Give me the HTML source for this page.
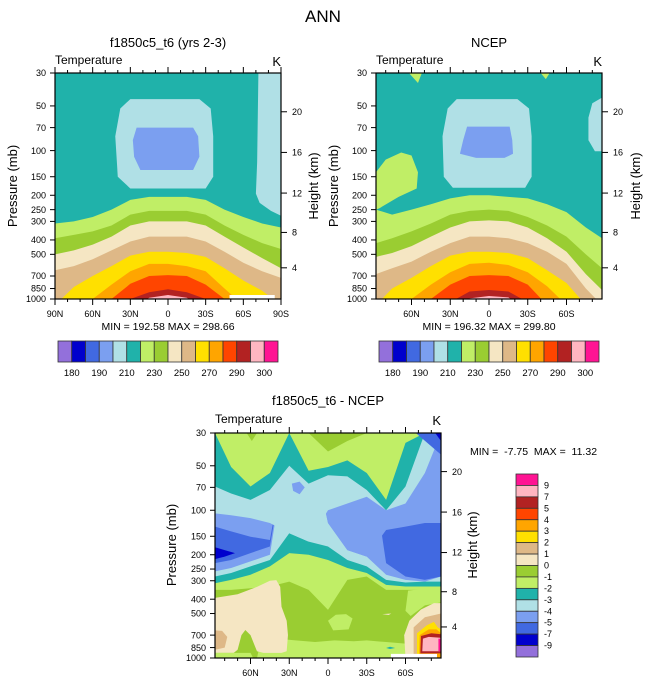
<!DOCTYPE html>
<html><head><meta charset="utf-8">
<style>
html,body{margin:0;padding:0;background:#fff;}
svg{display:block;font-family:"Liberation Sans",Arial,sans-serif;}
</style></head>
<body>
<svg id="root" width="647" height="683" viewBox="0 0 647 683" xmlns="http://www.w3.org/2000/svg">
<defs>
<clipPath id="clipA"><rect x="55" y="73" width="226" height="226"/></clipPath>
<clipPath id="clipB"><rect x="376" y="73" width="226" height="226"/></clipPath>
<clipPath id="clipC"><rect x="215" y="433" width="226" height="225"/></clipPath>
</defs>
<text x="323" y="22" font-size="17" text-anchor="middle">ANN</text>
<text x="168" y="47" font-size="13" text-anchor="middle">f1850c5_t6 (yrs 2-3)</text>
<text x="489" y="47" font-size="13" text-anchor="middle">NCEP</text>
<text x="328" y="405" font-size="13" text-anchor="middle">f1850c5_t6 - NCEP</text>
<text x="55" y="64" font-size="12">Temperature</text>
<text x="281" y="66" font-size="13" text-anchor="end">K</text>
<text x="376" y="64" font-size="12">Temperature</text>
<text x="602" y="66" font-size="13" text-anchor="end">K</text>
<text x="215" y="423" font-size="12">Temperature</text>
<text x="441" y="425" font-size="13" text-anchor="end">K</text>
<text x="168" y="330" font-size="10.5" text-anchor="middle">MIN = 192.58  MAX = 298.66</text>
<text x="489" y="330" font-size="10.5" text-anchor="middle">MIN = 196.32  MAX = 299.80</text>
<text x="470" y="455" font-size="10.5" xml:space="preserve">MIN =  -7.75  MAX =  11.32</text>
<text transform="translate(17,186) rotate(-90)" font-size="13" text-anchor="middle">Pressure (mb)</text>
<text transform="translate(338,186) rotate(-90)" font-size="13" text-anchor="middle">Pressure (mb)</text>
<text transform="translate(176,545) rotate(-90)" font-size="13" text-anchor="middle">Pressure (mb)</text>
<text transform="translate(318,186) rotate(-90)" font-size="13" text-anchor="middle">Height (km)</text>
<text transform="translate(640,186) rotate(-90)" font-size="13" text-anchor="middle">Height (km)</text>
<text transform="translate(477,545) rotate(-90)" font-size="13" text-anchor="middle">Height (km)</text>
<g id="gA"></g>
<g id="gB"></g>
<g id="gC"></g>
<g id="cbars"></g>
</svg>
<script>
// ---------- data ----------
const colorsT = ['#9370DB','#0000CD','#4169E1','#7B9FF0','#B0E0E6','#20B2AA','#C0EE66','#9ACD32','#F5E6C3','#DEB887','#FFE000','#FFA500','#FF4500','#B22222','#FFB6C1','#FF1493'];
const cbarLabelsT = ['180','190','210','230','250','270','290','300'];
const cbarLabelsD = ['9','7','5','4','3','2','1','0','-1','-2','-3','-4','-5','-7','-9'];
const pTicks = [30,50,70,100,150,200,250,300,400,500,700,850,1000];
const hTicks = [4,8,12,16,20];
const latTicksA = [90,60,30,0,-30,-60,-90];
const latLabelsA = ['90N','60N','30N','0','30S','60S','90S'];
const latTicksB = [60,30,0,-30,-60];
const latLabelsB = ['60N','30N','0','30S','60S'];

// model panel (lat 90N..90S)
const latsA = [90,75,60,45,30,15,0,-15,-30,-45,-60,-75,-90];
const A220 = [310,300,280,250,215,205,205,205,215,250,280,310,330];
const A230 = [390,370,350,320,270,255,255,255,270,320,370,420,460];
const A240 = [500,470,430,380,320,300,300,300,320,380,450,530,620];
const A250 = [640,600,540,470,410,380,380,380,410,480,570,650,720];
const A260 = [1100,830,700,600,510,480,480,490,520,620,750,880,1100];
const A270 = [1300,1200,1000,800,650,580,580,600,650,850,1100,1300,1300];
const A280 = [1500,1400,1200,1000,790,700,690,700,800,1000,1200,1400,1500];
const A290 = [1500,1400,1300,1200,1000,900,860,900,1000,1200,1300,1400,1500];
const A295 = [1500,1400,1300,1250,1200,980,940,980,1200,1250,1300,1400,1500];
const A210blob = [[30,45],[-25,45],[-34,52],[-36,80],[-36,150],[-30,180],[30,180],[40,150],[42,80],[38,52]];
const A200blob = [[25,70],[-20,70],[-24,80],[-25,110],[-20,135],[22,135],[27,110],[28,85]];
const A210pole = [[-72,30],[-90,30],[-90,275],[-82,255],[-73,225],[-70,195],[-71,120]];
const Amissing = [[-49,940],[-85,940],[-85,1000],[-49,1000]];

// NCEP panel
const latsB = [87.5,75,60,45,30,15,0,-15,-30,-45,-60,-75,-87.5];
const B220 = [250,270,250,230,210,200,200,205,210,230,260,330,390];
const B230 = [420,390,350,310,270,255,250,255,280,320,380,500,620];
const B240 = [520,490,440,380,330,300,295,300,330,390,480,680,870];
const B250 = [680,620,560,480,420,380,380,390,420,480,580,850,1100];
const B260 = [1100,850,720,600,510,480,480,490,530,640,780,1100,1300];
const B270 = [1400,1200,1000,800,660,580,570,590,660,820,1100,1300,1400];
const B280 = [1500,1400,1200,1000,800,700,690,700,800,1100,1300,1400,1500];
const B290 = [1500,1400,1300,1200,1050,890,870,890,1050,1200,1300,1400,1500];
const B295 = [1500,1400,1300,1250,1200,990,955,975,1200,1250,1300,1400,1500];
const B220blob = [[87.5,140],[80,115],[68,103],[60,108],[55,140],[56,180],[70,205],[85,245],[87.5,250]];
const B210blob = [[25,45],[-22,45],[-31,52],[-33,80],[-33,150],[-28,178],[28,178],[35,150],[36,80],[32,52]];
const B200blob = [[17,69],[-16,69],[-18,85],[-18.6,105],[-12,112],[10,112],[22.5,105],[20,85]];
const B210pole = [[-87.5,44],[-80,48],[-77,60],[-77,85],[-82,101],[-87.5,101]];
const B220top1 = [[62,30],[52,30],[55,35]];
const B220top2 = [[-40,30],[-47,30],[-44,33]];

// difference panel
const latsC = latsB;
const Clg_low   = [346,346,337,328,304,346,472,296,281,346,346,346,364];
const Cteal_low = [312,296,273,240,195,200,217,246,266,320,328,328,328];
const Cpow_low  = [281,266,240,217,143,163,176,217,240,296,308,304,304];
const Ccorn_low = [259,246,222,200,30,30,122,186,206,273,296,304,281];
const Croyal    = [228,217,195,176,30,30,30,30,30,228,281,296,281];
const Ccorn_up  = [129,139,151,159,30,30,122,186,206,136,129,122,122];
const Cpow_up   = [105,108,113,122,143,163,100,90,81,100,90,56,30];
const Cteal_up  = [69,77,85,73,50,66,58,59,73,100,69,30,30];
const Clg_up    = [30,51,69,56,30,54,51,46,56,85,35,30,30];
const Colive_up = [30,30,30,30,30,30,40,34,30,30,30,30,30];
const CnavyBlob = [[87.5,178],[80,186],[72,195],[80,206],[87.5,214]];
const CroyalCorner = [[-68,30],[-87.5,30],[-87.5,42]];
const CnavyCorner = [[-83,30],[-87.5,30],[-87.5,34]];
const CcornBlob = [[28,66],[22,64],[18,70],[22,78],[27,74]];
const ColiveTop = [[63,30],[55,30],[59,34]];
const Cwheat = [[87.5,392],[70,370],[55,330],[45,300],[40,297],[37,330],[36,450],[32,560],[31,700],[32,900],[36,923],[50,923],[55,900],[60,700],[64,646],[67,700],[70,880],[73,923],[87.5,923]];
const Ctan = [[87.5,650],[82,655],[78,720],[80,850],[87.5,880]];
const ClgBand = [[55,1000],[52,760],[40,740],[25,760],[10,780],[-5,760],[-20,770],[-30,760],[-45,780],[-60,800],[-65,1000]];
const ClgBlob = [[0,560],[-6,510],[-14,505],[-19,540],[-16,640],[-4,650]];
const ClgR = [[-62,350],[-87.5,330],[-87.5,420],[-75,440],[-64,520],[-60,480]];
const ClgBottomL = [[87.5,923],[60,923],[58,1000],[87.5,1000]];
const CtealSmall = [[-45,855],[-48,840],[-52,855],[-48,870]];
const CwheatSmall = [[-42,505],[-49,500],[-47,512]];
const CwheatR = [[-60,1000],[-59,700],[-63,560],[-72,470],[-82,425],[-87.5,425],[-87.5,1000]];
const CtanR = [[-66.3,1000],[-66.3,620],[-75,530],[-87.5,500],[-87.5,1000]];
const CgoldR = [[-68.9,1000],[-68.9,680],[-76.6,600],[-82,570],[-85,620],[-87.5,640],[-87.5,1000]];
const CorangeR = [[-70.5,1000],[-71,700],[-78,640],[-84,640],[-87.5,680],[-87.5,1000]];
const CredR = [[-71.5,930],[-72,710],[-80,680],[-87.5,690],[-87.5,930]];
const CpinkR = [[-73,900],[-73.5,740],[-78,720],[-87,730],[-87,900]];
const CmagR = [[-85.5,900],[-85.5,740],[-87.5,740],[-87.5,900]];
const Cmissing = [[-48.7,937],[-84.4,937],[-84.4,1000],[-48.7,1000]];

// ---------- helpers ----------
const NS='http://www.w3.org/2000/svg';
function mk(tag, parent, attrs){const e=document.createElementNS(NS,tag);for(const k in attrs)e.setAttribute(k,attrs[k]);parent.appendChild(e);return e;}
function panel(x0,x1,y0,y1,latL,latR){
  return {x0,x1,y0,y1,
    xs:lat=>x0+(latL-lat)/(latL-latR)*(x1-x0),
    ys:p=>y0+Math.log(p/30)/Math.log(1000/30)*(y1-y0)};
}
function stdP(z){return z<=11?1013.25*Math.pow(1-0.0065*z*1000/288.15,5.2559):226.32*Math.exp(-(z-11)/6.3416);}
function belowPath(P,lats,ps){
  let d='M'+P.xs(lats[0])+','+(P.y1+20);
  lats.forEach((l,i)=>{d+=' L'+P.xs(l).toFixed(2)+','+P.ys(ps[i]).toFixed(2);});
  d+=' L'+P.xs(lats[lats.length-1])+','+(P.y1+20)+' Z';return d;
}
function abovePath(P,lats,ps){
  let d='M'+P.xs(lats[0])+','+(P.y0-5);
  lats.forEach((l,i)=>{d+=' L'+P.xs(l).toFixed(2)+','+P.ys(ps[i]).toFixed(2);});
  d+=' L'+P.xs(lats[lats.length-1])+','+(P.y0-5)+' Z';return d;
}
function polyPath(P,pts){return 'M'+pts.map(q=>P.xs(q[0]).toFixed(2)+','+P.ys(q[1]).toFixed(2)).join(' L')+' Z';}

function axes(P,g,latT,latLab,id){
  const fr=mk('rect',g,{x:P.x0,y:P.y0,width:P.x1-P.x0,height:P.y1-P.y0,fill:'none',stroke:'#000','stroke-width':1.2});
  
  
  pTicks.forEach(p=>{
    const y=P.ys(p);
    const t=mk('line',g,{x1:P.x0-5,x2:P.x0,y1:y,y2:y,stroke:'#000','stroke-width':1});
    
    
    const tx=mk('text',g,{x:P.x0-9,y:y+3.2,'font-size':9,'text-anchor':'end'});
    tx.textContent=p;
    
    
  });
  hTicks.forEach(h=>{
    const y=P.ys(stdP(h));
    const t=mk('line',g,{x1:P.x1,x2:P.x1+6,y1:y,y2:y,stroke:'#000','stroke-width':1});
    
    
    const tx=mk('text',g,{x:P.x1+11,y:y+3.2,'font-size':9});
    tx.textContent=h;
    
    
  });
  for(let lat=90;lat>=-90;lat-=10){
    const x=P.xs(lat); if(x<P.x0-0.5||x>P.x1+0.5) continue;
    const major=(lat%30===0), L=major?6:3;
    const t1=mk('line',g,{x1:x,x2:x,y1:P.y1,y2:P.y1+L,stroke:'#000','stroke-width':1});
    
    
    const t2=mk('line',g,{x1:x,x2:x,y1:P.y0,y2:P.y0-L,stroke:'#000','stroke-width':1});
    
    
  }
  latT.forEach((lat,i)=>{
    const tx=mk('text',g,{x:P.xs(lat),y:P.y1+18,'font-size':9,'text-anchor':'middle'});
    tx.textContent=latLab[i];
    
    
  });
}

// ---------- panel A ----------
(function(){
  const P=panel(55,281,73,299,90,-90), g=document.getElementById('gA');
  const c=mk('g',g,{'clip-path':'url(#clipA)'});
  
  
  const bg=mk('rect',c,{x:P.x0,y:P.y0,width:226,height:226,fill:colorsT[5]});
  
  
  [[A210blob,4,'model-band-200-210'],[A200blob,3,'model-band-190-200'],[A210pole,4,'model-pole-band-200-210']].forEach(b=>{
    const e=mk('path',c,{d:polyPath(P,b[0]),fill:colorsT[b[1]]});
    
    
  });
  const levs=[[A220,6,'220'],[A230,7,'230'],[A240,8,'240'],[A250,9,'250'],[A260,10,'260'],[A270,11,'270'],[A280,12,'280'],[A290,13,'290'],[A295,14,'295']];
  levs.forEach(L=>{
    const e=mk('path',c,{d:belowPath(P,latsA,L[0]),fill:colorsT[L[1]]});
    
    
  });
  const m=mk('path',c,{d:polyPath(P,Amissing),fill:'#fff'});
  
  
  axes(P,g,latTicksA,latLabelsA,'model');
})();

// ---------- panel B ----------
(function(){
  const P=panel(376,602,73,299,87.5,-87.5), g=document.getElementById('gB');
  const c=mk('g',g,{'clip-path':'url(#clipB)'});
  
  
  const bg=mk('rect',c,{x:P.x0,y:P.y0,width:226,height:226,fill:colorsT[5]});
  
  
  [[B220blob,6,'ncep-polar-band-220-230'],[B220top1,6,'ncep-top-blob-1'],[B220top2,6,'ncep-top-blob-2'],[B210blob,4,'ncep-band-200-210'],[B200blob,3,'ncep-band-190-200'],[B210pole,4,'ncep-pole-band-200-210']].forEach(b=>{
    const e=mk('path',c,{d:polyPath(P,b[0]),fill:colorsT[b[1]]});
    
    
  });
  const levs=[[B220,6,'220'],[B230,7,'230'],[B240,8,'240'],[B250,9,'250'],[B260,10,'260'],[B270,11,'270'],[B280,12,'280'],[B290,13,'290'],[B295,14,'295']];
  levs.forEach(L=>{
    const e=mk('path',c,{d:belowPath(P,latsB,L[0]),fill:colorsT[L[1]]});
    
    
  });
  axes(P,g,latTicksB,latLabelsB,'ncep');
})();

// ---------- panel C ----------
(function(){
  const P=panel(215,441,433,658,87.5,-87.5), g=document.getElementById('gC');
  const c=mk('g',g,{'clip-path':'url(#clipC)'});
  
  
  const bg=mk('rect',c,{x:P.x0,y:P.y0,width:226,height:225,fill:colorsT[7]});
  
  
  const ups=[[Clg_low,6,'lower-minus2'],[Cteal_low,5,'lower-minus3'],[Cpow_low,4,'lower-minus4'],[Ccorn_low,3,'lower-minus5'],[Croyal,2,'minus7'],[Ccorn_up,3,'upper-minus5'],[Cpow_up,4,'upper-minus4'],[Cteal_up,5,'upper-minus3'],[Clg_up,6,'upper-minus2'],[Colive_up,7,'upper-minus1']];
  ups.forEach(L=>{
    const e=mk('path',c,{d:abovePath(P,latsC,L[0]),fill:colorsT[L[1]]});
    
    
  });
  const blobs=[[CnavyBlob,1,'diff-navy-blob'],[CroyalCorner,2,'diff-royal-corner'],[CnavyCorner,1,'diff-navy-corner'],[CcornBlob,3,'diff-cornflower-blob'],[ColiveTop,7,'diff-olive-top-blob'],
    [ClgBand,6,'diff-lightgreen-surface'],[ClgBlob,6,'diff-lightgreen-blob'],[ClgR,6,'diff-lightgreen-south'],
    [Cwheat,8,'diff-wheat-region'],[Ctan,9,'diff-tan-region'],[ClgBottomL,6,'diff-lightgreen-bottom-left'],[CtealSmall,5,'diff-teal-blob'],[CwheatSmall,8,'diff-wheat-small'],
    [CwheatR,8,'diff-antarctic-0-1'],[CtanR,9,'diff-antarctic-1-2'],[CgoldR,10,'diff-antarctic-2-3'],[CorangeR,11,'diff-antarctic-3-4'],[CredR,13,'diff-antarctic-5-7'],[CpinkR,14,'diff-antarctic-7-9'],[CmagR,15,'diff-antarctic-9plus']];
  blobs.forEach(b=>{
    const e=mk('path',c,{d:polyPath(P,b[0]),fill:colorsT[b[1]]});
    
    
  });
  const m=mk('path',c,{d:polyPath(P,Cmissing),fill:'#fff'});
  
  
  axes(P,g,latTicksB,latLabelsB,'diff');
})();

// ---------- colorbars ----------
(function(){
  const g=document.getElementById('cbars');
  [[58,'model'],[379,'ncep']].forEach(cb=>{
    const x0=cb[0], w=220/16;
    colorsT.forEach((col,i)=>{
      const r=mk('rect',g,{x:x0+i*w,y:341,width:w,height:21,fill:col,stroke:'#333','stroke-width':0.8});
      
      
    });
    cbarLabelsT.forEach((lab,k)=>{
      const t=mk('text',g,{x:x0+(2*k+1)*w,y:376,'font-size':9.5,'text-anchor':'middle'});
      t.textContent=lab;
      
      
    });
  });
  const y0=474, h=183/16;
  colorsT.slice().reverse().forEach((col,i)=>{
    const r=mk('rect',g,{x:516,y:y0+i*h,width:22,height:h,fill:col,stroke:'#333','stroke-width':0.8});
    
    
  });
  cbarLabelsD.forEach((lab,i)=>{
    const t=mk('text',g,{x:544,y:y0+(i+1)*h+3,'font-size':9});
    t.textContent=lab;
    
    
  });
})();
</script>
</body></html>
